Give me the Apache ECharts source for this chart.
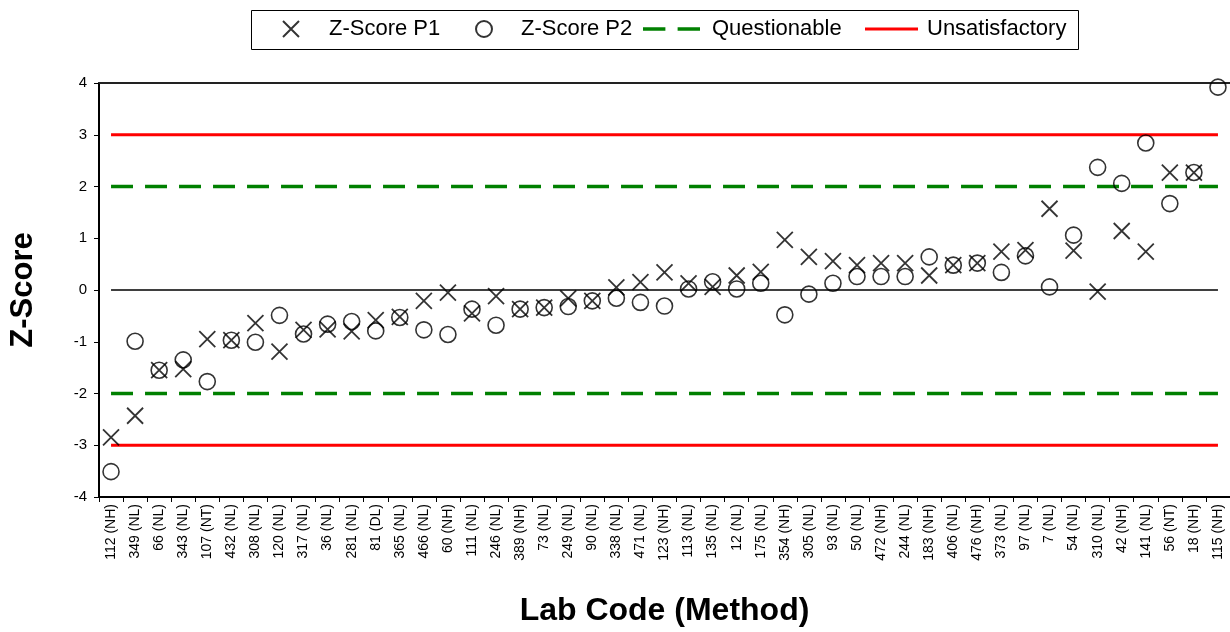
<!DOCTYPE html>
<html>
<head>
<meta charset="utf-8">
<script src="https://cdn.jsdelivr.net/npm/echarts@6/dist/echarts.min.js"></script>
<style>html,body{margin:0;padding:0;background:#fff;}#c{width:1230px;height:632px;}</style>
</head>
<body>
<div id="c"></div>
<script>
var categories = ["112 (NH)","349 (NL)","66 (NL)","343 (NL)","107 (NT)","432 (NL)","308 (NL)","120 (NL)","317 (NL)","36 (NL)","281 (NL)","81 (DL)","365 (NL)","466 (NL)","60 (NH)","111 (NL)","246 (NL)","389 (NH)","73 (NL)","249 (NL)","90 (NL)","338 (NL)","471 (NL)","123 (NH)","113 (NL)","135 (NL)","12 (NL)","175 (NL)","354 (NH)","305 (NL)","93 (NL)","50 (NL)","472 (NH)","244 (NL)","183 (NH)","406 (NL)","476 (NH)","373 (NL)","97 (NL)","7 (NL)","54 (NL)","310 (NL)","42 (NH)","141 (NL)","56 (NT)","18 (NH)","115 (NH)"];
var zScoreP1 = [-2.85,-2.43,-1.55,-1.53,-0.95,-0.97,-0.64,-1.19,-0.77,-0.76,-0.80,-0.58,-0.52,-0.21,-0.05,-0.45,-0.12,-0.37,-0.34,-0.16,-0.21,0.05,0.15,0.34,0.13,0.06,0.28,0.35,0.97,0.64,0.56,0.48,0.52,0.52,0.28,0.48,0.52,0.74,0.77,1.57,0.76,-0.03,1.14,0.74,2.27,2.27,null];
var zScoreP2 = [-3.51,-0.99,-1.55,-1.35,-1.77,-0.97,-1.01,-0.49,-0.85,-0.66,-0.61,-0.79,-0.53,-0.77,-0.86,-0.37,-0.68,-0.37,-0.34,-0.32,-0.21,-0.16,-0.24,-0.31,0.02,0.16,0.02,0.13,-0.48,-0.08,0.13,0.26,0.26,0.26,0.64,0.48,0.52,0.34,0.66,0.06,1.06,2.37,2.06,2.84,1.67,2.27,3.92];
var questionableLimit = 2;
var unsatisfactoryLimit = 3;
var yTicks = [-4,-3,-2,-1,0,1,2,3,4];

function constant(v){ return categories.map(function(){ return v; }); }

var FONT = '"Liberation Sans", Arial, sans-serif';
var chart = echarts.init(document.getElementById('c'), null, {renderer:'canvas'});
var xSym = 'path://M0,0L10,10M10,0L0,10';
var legendText = {fontSize: 22, color: '#000', fontFamily: FONT};

function leg(name, left, w, h, padL, icon, color) {
  var item = {name: name, textStyle: {padding: [0, 0, 0, padL]}};
  if (icon) { item.icon = icon; item.itemStyle = {color: color, borderWidth: 0}; }
  return {
    left: left, top: 18, padding: 0, itemWidth: w, itemHeight: h,
    selectedMode: false, textStyle: legendText, data: [item]
  };
}

chart.setOption({
  animation: false,
  backgroundColor: '#fff',
  textStyle: {fontFamily: FONT},
  legend: [
    leg('Z-Score P1', 282, 16, 16, 25),
    leg('Z-Score P2', 475, 16, 16, 24),
    leg('Questionable', 643, 57, 4, 7, 'path://M0,0h22v3.5h-22zM34,0h22v3.5h-22z', '#008000'),
    leg('Unsatisfactory', 865, 53, 3, 4, 'path://M0,0h53v3h-53z', '#ff0000')
  ],
  graphic: [{
    type: 'rect', silent: true,
    shape: {x: 251.5, y: 10.5, width: 827, height: 39},
    style: {fill: 'none', stroke: '#000', lineWidth: 1}
  }],
  grid: {left: 94, top: 83, right: 0, bottom: 135},
  xAxis: [{
    type: 'category', data: categories, boundaryGap: true,
    name: 'Lab Code (Method)', nameLocation: 'middle', nameGap: 98,
    nameTextStyle: {fontSize: 32, fontWeight: 'bold', color: '#000', fontFamily: FONT},
    axisLine: {onZero: false, lineStyle: {color: '#000', width: 2}},
    axisTick: {show: true, length: 5, lineStyle: {color: '#000', width: 1}},
    axisLabel: {rotate: 90, interval: 0, fontSize: 14, color: '#000', margin: 7, fontFamily: FONT},
    splitLine: {show: false}
  }, {
    type: 'category', data: categories, position: 'top', boundaryGap: true,
    axisLine: {onZero: false, lineStyle: {color: '#222', width: 2}},
    axisTick: {show: false}, axisLabel: {show: false}, splitLine: {show: false}
  }],
  yAxis: {
    type: 'value', min: -4, max: 4, interval: 1,
    name: 'Z-Score', nameLocation: 'middle', nameGap: 60, nameRotate: 90,
    nameTextStyle: {fontSize: 31, fontWeight: 'bold', color: '#000', fontFamily: FONT},
    axisLine: {show: true, onZero: false, lineStyle: {color: '#000', width: 2}},
    axisTick: {show: true, length: 5, lineStyle: {color: '#000', width: 1}},
    axisLabel: {fontSize: 15, color: '#000', margin: 12, fontFamily: FONT,
      formatter: function(v){ return yTicks.indexOf(v) >= 0 ? String(v) : ''; }},
    splitLine: {show: false}
  },
  series: [
    {name: 'Zero', type: 'line', data: constant(0), symbol: 'none', silent: true,
     lineStyle: {color: '#000', width: 1.5}, z: 1},
    {name: 'Questionable', type: 'line', data: constant(questionableLimit), symbol: 'none', silent: true,
     lineStyle: {color: '#008000', width: 3.5, type: [22, 12]}, itemStyle: {color: '#008000'}, z: 1},
    {name: 'Questionable ', type: 'line', data: constant(-questionableLimit), symbol: 'none', silent: true,
     lineStyle: {color: '#008000', width: 3.5, type: [22, 12]}, z: 1},
    {name: 'Unsatisfactory', type: 'line', data: constant(unsatisfactoryLimit), symbol: 'none', silent: true,
     lineStyle: {color: '#ff0000', width: 3}, itemStyle: {color: '#ff0000'}, z: 1},
    {name: 'Unsatisfactory ', type: 'line', data: constant(-unsatisfactoryLimit), symbol: 'none', silent: true,
     lineStyle: {color: '#ff0000', width: 3}, z: 1},
    {name: 'Z-Score P1', type: 'scatter', data: zScoreP1, symbol: xSym, symbolSize: 16, clip: false,
     itemStyle: {color: 'rgba(0,0,0,0)', borderColor: '#000', borderWidth: 1.8}, z: 3},
    {name: 'Z-Score P2', type: 'scatter', data: zScoreP2, symbol: 'circle', symbolSize: 16, clip: false,
     itemStyle: {color: 'rgba(0,0,0,0)', borderColor: '#000', borderWidth: 1.6}, z: 3}
  ]
});
</script>
</body>
</html>
